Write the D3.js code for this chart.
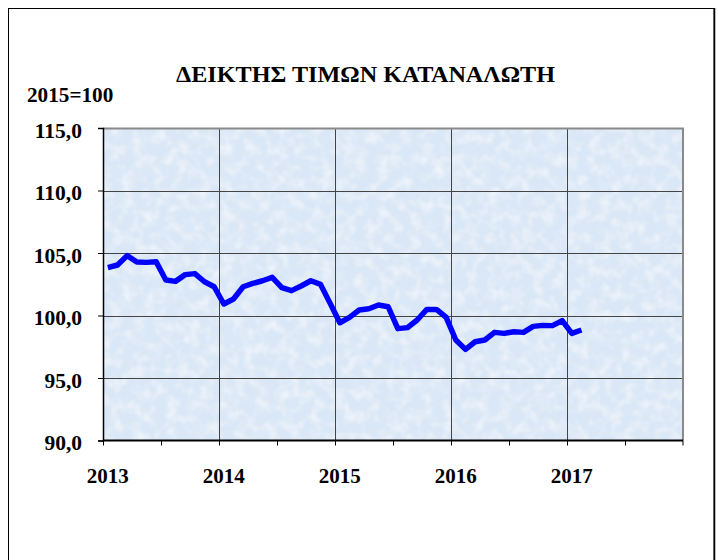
<!DOCTYPE html>
<html>
<head>
<meta charset="utf-8">
<script src="https://cdn.jsdelivr.net/npm/d3@7/dist/d3.min.js"></script>
<style>
  html, body { margin: 0; padding: 0; background: #fff; }
  svg { display: block; }
  text { font-family: "Liberation Serif", "Times New Roman", "DejaVu Serif", serif; font-weight: bold; fill: #000; }
</style>
</head>
<body>
<svg id="chart" width="718" height="560"></svg>
<script>
// ---- data ----
const title = "ΔΕΙΚΤΗΣ ΤΙΜΩΝ ΚΑΤΑΝΑΛΩΤΗ";
const unitLabel = "2015=100";
const years = ["2013", "2014", "2015", "2016", "2017"];
const months = ["01","02","03","04","05","06","07","08","09","10","11","12"];
const categories = years.flatMap(y => months.map(m => y + "-" + m));
const cpiValues = [
  103.83, 104.04, 104.79, 104.28, 104.25, 104.30, 102.84, 102.73, 103.27, 103.35, 102.70, 102.30,
  100.92, 101.32, 102.30, 102.57, 102.78, 103.05, 102.23, 101.99, 102.36, 102.78, 102.49, 100.97,
  99.42, 99.85, 100.44, 100.54, 100.84, 100.70, 98.95, 99.03, 99.64, 100.49, 100.49, 99.85,
  98.04, 97.29, 97.90, 98.04, 98.65, 98.57, 98.70, 98.65, 99.13, 99.21, 99.19, 99.59,
  98.57, 98.84
];
const yTicks = [90, 95, 100, 105, 110, 115];

// ---- layout ----
const svg = d3.select("#chart");
const plot = { left: 103, right: 683, top: 128, bottom: 440.5 };
const FONT = "'Liberation Serif', 'Times New Roman', serif";

// outer frame
svg.append("rect")
  .attr("x", 8.5).attr("y", 8.5).attr("width", 705.5).attr("height", 560)
  .attr("fill", "#fff").attr("stroke", "#000").attr("stroke-width", 1);
svg.append("line")
  .attr("x1", 714.5).attr("x2", 714.5).attr("y1", 8).attr("y2", 560)
  .attr("stroke", "#000").attr("stroke-width", 1.5);

const x = d3.scaleBand().domain(categories).range([plot.left, plot.right]).padding(0);
const y = d3.scaleLinear().domain([90, 115]).range([plot.bottom, plot.top]);

// textured light-blue background
const defs = svg.append("defs");
const f = defs.append("filter").attr("id", "tex").attr("x", 0).attr("y", 0).attr("width", 1).attr("height", 1);
f.append("feTurbulence").attr("type", "fractalNoise").attr("baseFrequency", 0.09).attr("numOctaves", 2).attr("seed", 3).attr("result", "noise");
f.append("feColorMatrix").attr("in", "noise").attr("type", "matrix")
  .attr("values", "0 0 0 0 1  0 0 0 0 1  0 0 0 0 1  0 0 0 1.1 -0.45").attr("result", "spots");
f.append("feComposite").attr("in", "spots").attr("in2", "SourceGraphic").attr("operator", "in").attr("result", "clipped");
f.append("feMerge").selectAll("feMergeNode").data(["SourceGraphic", "clipped"]).enter()
  .append("feMergeNode").attr("in", d => d);

svg.append("rect")
  .attr("x", plot.left).attr("y", plot.top)
  .attr("width", plot.right - plot.left).attr("height", plot.bottom - plot.top)
  .attr("fill", "#dae7f6").attr("filter", "url(#tex)");

// horizontal gridlines
svg.append("g").selectAll("line").data(yTicks.slice(1, -1)).enter().append("line")
  .attr("x1", plot.left).attr("x2", plot.right)
  .attr("y1", d => Math.round(y(d)) + 0.5).attr("y2", d => Math.round(y(d)) + 0.5)
  .attr("stroke", "#444").attr("stroke-width", 1);

// vertical gridlines at year boundaries
const yearStarts = years.slice(1).map(yy => yy + "-01");
svg.append("g").selectAll("line").data(yearStarts).enter().append("line")
  .attr("x1", d => Math.round(x(d)) + 0.5).attr("x2", d => Math.round(x(d)) + 0.5)
  .attr("y1", plot.top).attr("y2", plot.bottom)
  .attr("stroke", "#444").attr("stroke-width", 1);

// plot frame (top/right gray)
svg.append("path")
  .attr("d", `M${plot.left},${plot.top + 0.5} H${plot.right} V${plot.bottom}`)
  .attr("fill", "none").attr("stroke", "#8a8a8a").attr("stroke-width", 2);

// y axis
const fmt = d => d3.format(".1f")(d).replace(".", ",");
const yAxis = svg.append("g").attr("transform", `translate(${plot.left},0)`)
  .call(d3.axisLeft(y).tickValues(yTicks).tickFormat(fmt).tickSize(5).tickPadding(16));
yAxis.select(".domain").attr("stroke", "#000").attr("stroke-width", 1.5);
yAxis.selectAll(".tick line").attr("stroke", "#000");
yAxis.selectAll(".tick text")
  .attr("font-size", 21.5).attr("font-family", FONT).attr("font-weight", "bold")
  .attr("dy", "0.42em").attr("fill", "#000");

// x axis: ticks every 6 months at band boundaries
const tickCats = categories.filter((c, i) => i % 6 === 0);
const xAxisG = svg.append("g").attr("transform", `translate(0,${plot.bottom})`);
xAxisG.append("line").attr("x1", plot.left).attr("x2", plot.right).attr("y1", 0).attr("y2", 0)
  .attr("stroke", "#000").attr("stroke-width", 2);
xAxisG.selectAll("line.tk").data(tickCats.concat(["END"])).enter().append("line").attr("class", "tk")
  .attr("x1", d => d === "END" ? plot.right : Math.round(x(d)) + 0.5)
  .attr("x2", d => d === "END" ? plot.right : Math.round(x(d)) + 0.5)
  .attr("y1", 0).attr("y2", 5).attr("stroke", "#000").attr("stroke-width", 1);
xAxisG.selectAll("text").data(years).enter().append("text")
  .attr("x", d => x(d + "-01") + x.bandwidth() / 2)
  .attr("y", 42.5)
  .attr("text-anchor", "middle").attr("font-size", 21).attr("font-family", FONT)
  .text(d => d);

// data line
const line = d3.line()
  .x((d, i) => x(categories[i]) + x.bandwidth() / 2)
  .y(d => y(d));
svg.append("path").datum(cpiValues)
  .attr("d", line)
  .attr("fill", "none").attr("stroke", "#0000ff").attr("stroke-width", 5.5)
  .attr("stroke-linejoin", "round").attr("stroke-linecap", "butt");

// titles (Greek needs a serif font that has Greek glyphs)
svg.append("text").attr("x", 176).attr("y", 82)
  .attr("font-size", 23).attr("font-family", "'DejaVu Serif', serif")
  .attr("textLength", 379).attr("lengthAdjust", "spacingAndGlyphs")
  .text(title);
svg.append("text").attr("x", 27).attr("y", 102).attr("font-size", 21.2).attr("font-family", FONT).text(unitLabel);
</script>
</body>
</html>
